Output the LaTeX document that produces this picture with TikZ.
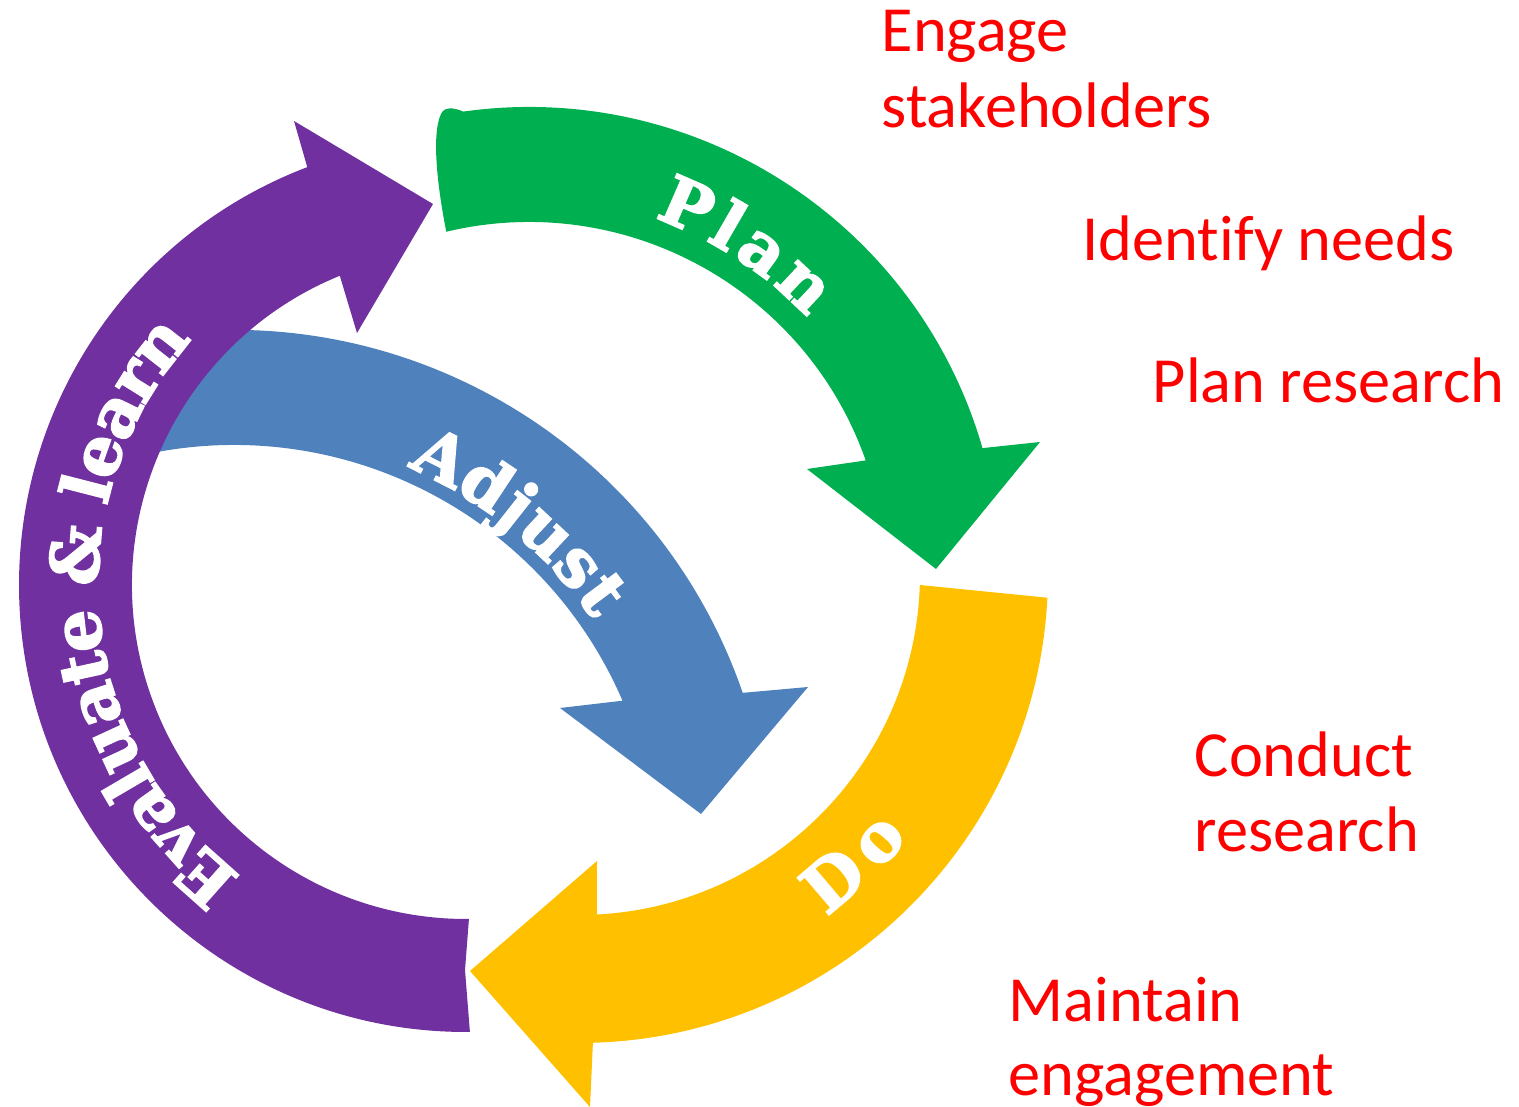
\documentclass[tikz,border=0pt]{standalone}
\usepackage{fontspec}
\setmainfont{Carlito}[Ligatures=NoCommon]
\newfontfamily\wfont{DejaVu Serif}[BoldFeatures={FakeBold=2.5}]
\usetikzlibrary{decorations.text}
\definecolor{cgreen}{HTML}{00B050}
\definecolor{cyellow}{HTML}{FFC000}
\definecolor{cpurple}{HTML}{7030A0}
\definecolor{cblue}{HTML}{4F81BD}
\definecolor{cred}{HTML}{FF0000}
\newcommand{\wfmt}{\color{white}\wfont\bfseries\fontsize{19}{21}\selectfont}
\begin{document}
\begin{tikzpicture}[x=0.01cm,y=-0.01cm,
  redlabel/.style={anchor=base west, inner sep=0pt, text=cred, font=\fontsize{18.3}{21.6}\selectfont},
  arclabel/.style={decorate, decoration={text along path, text align=center, raise=-6.3pt, text={#1}}}]
\useasboundingbox (0,0) rectangle (1519,1107);
\coordinate (cB) at (234,868);
\coordinate (cG) at (529,579);
\coordinate (cY) at (579,574);
\coordinate (cP) at (466,585);
% Adjust (blue)
\fill[cblue] ([shift={(-105:538)}]cB) arc[start angle=-105, end angle=-19, radius=538]
  -- (808,687) -- (701,814) -- (560,708)
  -- ([shift={(-23.3:423)}]cB) arc[start angle=-23.3, end angle=-105, radius=423] -- cycle;
% Evaluate & learn (purple)
\fill[cpurple] ([shift={(89.5:447)}]cP) arc[start angle=89.5, end angle=249.2, radius=447]
  -- (294,121) -- (433,204) -- (357,333)
  -- ([shift={(247.8:334)}]cP) arc[start angle=247.8, end angle=89.5, radius=334]
  -- (465,970) -- cycle;
% Plan (green)
\fill[cgreen] ([shift={(-103.4:357)}]cG) .. controls (438,190) and (431,135) .. (441,114)
  .. controls (444,107) and (453,107) .. ([shift={(-98:472)}]cG)
  arc[start angle=-98, end angle=-16.1, radius=472]
  -- (1040,442) -- (936,569) -- (807,469)
  -- ([shift={(-19.4:357)}]cG) arc[start angle=-19.4, end angle=-103.4, radius=357] -- cycle;
% Do (yellow)
\fill[cyellow] ([shift={(1.85:341)}]cY) -- ([shift={(2.9:469)}]cY)
  arc[start angle=2.9, end angle=88.3, radius=469]
  -- (590,1107) -- (470,971) -- (597,861)
  -- ([shift={(87:341)}]cY) arc[start angle=87, end angle=1.85, radius=341] -- cycle;
% arc labels
\path[arclabel={|\wfmt|{P\kern2.3pt}{l\kern2.3pt}{a\kern2.3pt}n}]
  ([shift={(-97:404)}]cG) arc[start angle=-97, end angle=-17, radius=404];
\path[arclabel={|\wfmt|{A\kern.82pt}{d\kern.82pt}{j\kern.82pt}{u\kern.82pt}{s\kern.82pt}t}]
  ([shift={(-90.55:459)}]cB) arc[start angle=-90.55, end angle=-10.55, radius=459];
\path[arclabel={|\wfmt|{D\kern2.46pt}o}]
  ([shift={(86.45:399.5)}]cY) arc[start angle=86.45, end angle=6.45, radius=399.5];
\path[arclabel={|\wfmt|{E\kern.25pt}{v\kern.25pt}{a\kern.25pt}{l\kern.25pt}{u\kern.25pt}{a\kern.25pt}{t\kern.25pt}{e\kern.25pt}{\kern6.86pt}{\&\kern.25pt}{\kern6.86pt}{l\kern.25pt}{e\kern.25pt}{a\kern.25pt}{r\kern.25pt}n}]
  ([shift={(94.75:390)}]cP) arc[start angle=94.75, end angle=254.75, radius=390];
% red labels
\node[redlabel] (t1a) at (881,52) {Engage};
\node[redlabel] (t1b) at (881,128) {stakeholders};
\node[redlabel] (t2) at (1082,261) {Identify needs};
\node[redlabel] (t3) at (1152,403) {Plan research};
\node[redlabel] (t4a) at (1194,776) {Conduct};
\node[redlabel] (t4b) at (1194,851) {research};
\node[redlabel] (t5a) at (1008,1021) {Maintain};
\node[redlabel] (t5b) at (1008,1095) {engagement};
\end{tikzpicture}
\end{document}
